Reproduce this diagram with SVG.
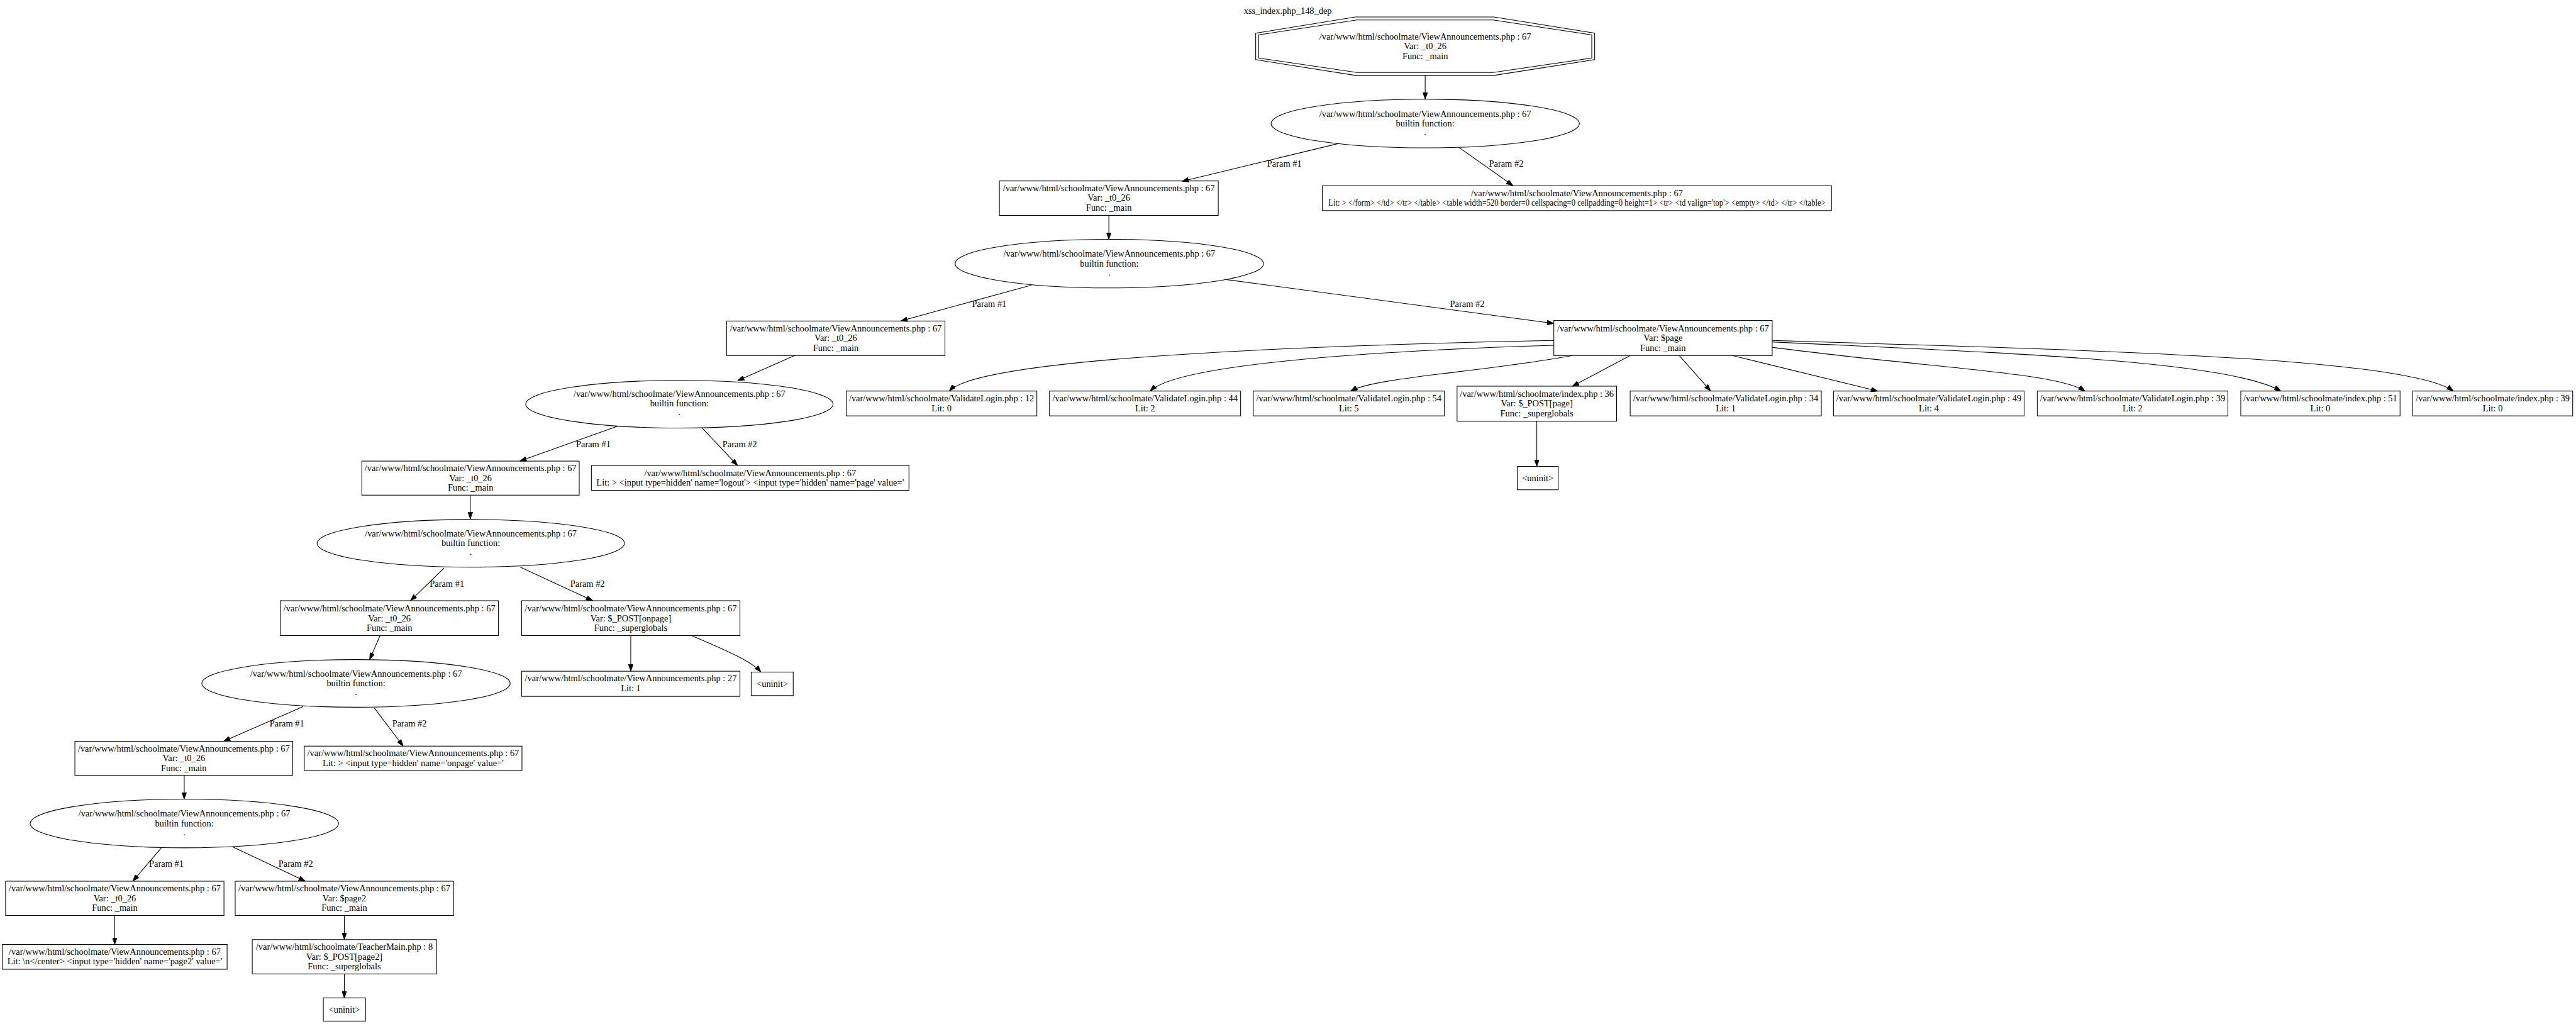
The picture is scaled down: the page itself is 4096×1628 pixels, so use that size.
<svg xmlns="http://www.w3.org/2000/svg" width="4096" height="1628" viewBox="0 0 4096 1628">
<style>
text{font-family:"Liberation Serif","Times New Roman",serif;font-size:18.67px;fill:#000;text-anchor:middle}
.n{fill:none;stroke:#000;stroke-width:1.4}
.e{fill:none;stroke:#000;stroke-width:1.4;marker-end:url(#a)}
</style>
<defs>
<marker id="a" viewBox="0 0 14 10" refX="14" refY="5" markerWidth="14" markerHeight="10" orient="auto" markerUnits="userSpaceOnUse">
<path d="M0,0 L14,5 L0,10 z" fill="#000" stroke="#000" stroke-width="1"/>
</marker>
</defs>
<rect width="4096" height="1628" fill="#fff"/>
<g transform="scale(0.7733)">
<text x="2648" y="28">xss_index.php_148_dep</text>
<g id="edges">
<path class="e" d="M2930.5,155 L2930.5,204"/>
<path class="e" d="M2752.6,295 L2430.5,372.7"/>
<path class="e" d="M2999.4,302.7 L3111,381.7"/>
<path class="e" d="M2280,443.3 L2280,492"/>
<path class="e" d="M2121,586 L1852,660"/>
<path class="e" d="M2523,575 L3195,665"/>
<path class="e" d="M3195,700 C2600,712 2010,740 1952,804"/>
<path class="e" d="M3195,710 C2800,722 2420,750 2365,804"/>
<path class="e" d="M3233,731 C3050,765 2830,775 2777,804"/>
<path class="e" d="M3352,731 L3233,794"/>
<path class="e" d="M3453,731 L3517.5,804"/>
<path class="e" d="M3562,731 L3861,804"/>
<path class="e" d="M3644,714 C3950,755 4230,765 4287,804"/>
<path class="e" d="M3644,703 C4100,725 4580,740 4690,804"/>
<path class="e" d="M3644,700 C4300,720 4950,735 5044.6,804"/>
<path class="e" d="M3160,866 L3160,959"/>
<path class="e" d="M1634.6,730.7 L1516.6,782.7"/>
<path class="e" d="M1270,876 L1069,948"/>
<path class="e" d="M1444,880 L1516.6,957"/>
<path class="e" d="M967,1018 L967,1067"/>
<path class="e" d="M913,1168 L844,1235"/>
<path class="e" d="M1070,1166 L1219,1235"/>
<path class="e" d="M781.6,1306.7 L760,1356"/>
<path class="e" d="M1297,1306.7 L1297,1380"/>
<path class="e" d="M1422,1306.7 C1500,1340 1545,1360 1564.7,1381.7"/>
<path class="e" d="M623,1453 L459.5,1524"/>
<path class="e" d="M770,1456 L829,1534"/>
<path class="e" d="M378.8,1594 L378.8,1643"/>
<path class="e" d="M331.6,1743.3 L273,1811.7"/>
<path class="e" d="M479.6,1741.7 L628,1811.7"/>
<path class="e" d="M236,1882.3 L236,1941.7"/>
<path class="e" d="M708,1882.3 L708,1931.7"/>
<path class="e" d="M708,2002.3 L708,2051.7"/>
<text x="2641" y="343">Param #1</text>
<text x="3097" y="343">Param #2</text>
<text x="2034" y="631">Param #1</text>
<text x="3017" y="631">Param #2</text>
<text x="1220" y="920">Param #1</text>
<text x="1521" y="920">Param #2</text>
<text x="919" y="1207">Param #1</text>
<text x="1208" y="1207">Param #2</text>
<text x="590" y="1494">Param #1</text>
<text x="842" y="1494">Param #2</text>
<text x="342" y="1782">Param #1</text>
<text x="608" y="1782">Param #2</text>
</g>
<g id="n1">
<polygon class="n" points="2787,35 3072,35 3279,68.3 3279,122.7 3072,155 2787,155 2582,122.7 2582,68.3"/>
<polygon class="n" points="2790,41 3070,41 3273,71.7 3273,119.3 3070,149 2790,149 2588,119.3 2588,71.7"/>
<text x="2930.5" y="81">/var/www/html/schoolmate/ViewAnnouncements.php : 67</text>
<text x="2930.5" y="101">Var: _t0_26</text>
<text x="2930.5" y="121">Func: _main</text>
</g>
<g id="n2">
<ellipse class="n" cx="2930.5" cy="254" rx="317" ry="50"/>
<text x="2930.5" y="240">/var/www/html/schoolmate/ViewAnnouncements.php : 67</text>
<text x="2930.5" y="260">builtin function:</text>
<text x="2930.5" y="278">.</text>
</g>
<g id="n3">
<rect class="n" x="2055" y="372" width="450" height="71"/>
<text x="2280" y="393">/var/www/html/schoolmate/ViewAnnouncements.php : 67</text>
<text x="2280" y="413">Var: _t0_26</text>
<text x="2280" y="433">Func: _main</text>
</g>
<g id="lit1">
<rect class="n" x="2719" y="382" width="1047" height="51"/>
<text x="3242.5" y="403">/var/www/html/schoolmate/ViewAnnouncements.php : 67</text>
<text x="3242.5" y="423" textLength="1022" lengthAdjust="spacingAndGlyphs">Lit: &gt; &lt;/form&gt; &lt;/td&gt; &lt;/tr&gt; &lt;/table&gt; &lt;table width=520 border=0 cellspacing=0 cellpadding=0 height=1&gt; &lt;tr&gt; &lt;td valign='top'&gt; &lt;empty&gt; &lt;/td&gt; &lt;/tr&gt; &lt;/table&gt;</text>
</g>
<g id="n4">
<ellipse class="n" cx="2281" cy="542" rx="317" ry="50"/>
<text x="2281" y="528">/var/www/html/schoolmate/ViewAnnouncements.php : 67</text>
<text x="2281" y="548">builtin function:</text>
<text x="2281" y="566">.</text>
</g>
<g id="n5">
<rect class="n" x="1494" y="660" width="449" height="71"/>
<text x="1718.5" y="681.5">/var/www/html/schoolmate/ViewAnnouncements.php : 67</text>
<text x="1718.5" y="701.5">Var: _t0_26</text>
<text x="1718.5" y="721.5">Func: _main</text>
</g>
<g id="page">
<rect class="n" x="3195" y="659" width="449" height="72"/>
<text x="3419.5" y="681">/var/www/html/schoolmate/ViewAnnouncements.php : 67</text>
<text x="3419.5" y="701">Var: $page</text>
<text x="3419.5" y="721">Func: _main</text>
</g>
<g id="vl12">
<rect class="n" x="1740" y="804" width="392" height="51"/>
<text x="1936" y="825.5">/var/www/html/schoolmate/ValidateLogin.php : 12</text>
<text x="1936" y="845.5">Lit: 0</text>
</g>
<g id="vl44">
<rect class="n" x="2158" y="804" width="393" height="51"/>
<text x="2354.5" y="825.5">/var/www/html/schoolmate/ValidateLogin.php : 44</text>
<text x="2354.5" y="845.5">Lit: 2</text>
</g>
<g id="vl54">
<rect class="n" x="2577" y="804" width="393" height="51"/>
<text x="2773.5" y="825.5">/var/www/html/schoolmate/ValidateLogin.php : 54</text>
<text x="2773.5" y="845.5">Lit: 5</text>
</g>
<g id="idx36">
<rect class="n" x="2996" y="794" width="328" height="72"/>
<text x="3160" y="816">/var/www/html/schoolmate/index.php : 36</text>
<text x="3160" y="836">Var: $_POST[page]</text>
<text x="3160" y="856">Func: _superglobals</text>
</g>
<g id="vl34">
<rect class="n" x="3352" y="804" width="393" height="51"/>
<text x="3548.5" y="825.5">/var/www/html/schoolmate/ValidateLogin.php : 34</text>
<text x="3548.5" y="845.5">Lit: 1</text>
</g>
<g id="vl49">
<rect class="n" x="3770" y="804" width="392" height="51"/>
<text x="3966" y="825.5">/var/www/html/schoolmate/ValidateLogin.php : 49</text>
<text x="3966" y="845.5">Lit: 4</text>
</g>
<g id="vl39">
<rect class="n" x="4189" y="804" width="392" height="51"/>
<text x="4385" y="825.5">/var/www/html/schoolmate/ValidateLogin.php : 39</text>
<text x="4385" y="845.5">Lit: 2</text>
</g>
<g id="idx51">
<rect class="n" x="4607.5" y="804" width="327.5" height="51"/>
<text x="4771" y="825.5">/var/www/html/schoolmate/index.php : 51</text>
<text x="4771" y="845.5">Lit: 0</text>
</g>
<g id="idx39">
<rect class="n" x="4961" y="804" width="329" height="51"/>
<text x="5125.5" y="825.5">/var/www/html/schoolmate/index.php : 39</text>
<text x="5125.5" y="845.5">Lit: 0</text>
</g>
<g id="uninit1">
<rect class="n" x="3120" y="959" width="84" height="48"/>
<text x="3162" y="989">&lt;uninit&gt;</text>
</g>
<g id="n6">
<ellipse class="n" cx="1397" cy="831" rx="316" ry="49"/>
<text x="1397" y="816">/var/www/html/schoolmate/ViewAnnouncements.php : 67</text>
<text x="1397" y="836">builtin function:</text>
<text x="1397" y="854">.</text>
</g>
<g id="n7">
<rect class="n" x="744" y="948" width="447" height="70"/>
<text x="967.5" y="969">/var/www/html/schoolmate/ViewAnnouncements.php : 67</text>
<text x="967.5" y="989">Var: _t0_26</text>
<text x="967.5" y="1009">Func: _main</text>
</g>
<g id="n8">
<rect class="n" x="1216" y="957" width="653" height="51"/>
<text x="1542.5" y="978.5">/var/www/html/schoolmate/ViewAnnouncements.php : 67</text>
<text x="1542.5" y="998.5">Lit: &gt; &lt;input type=hidden' name='logout'&gt; &lt;input type='hidden' name='page' value='</text>
</g>
<g id="n9">
<ellipse class="n" cx="968" cy="1117" rx="316" ry="49"/>
<text x="968" y="1103">/var/www/html/schoolmate/ViewAnnouncements.php : 67</text>
<text x="968" y="1123">builtin function:</text>
<text x="968" y="1141">.</text>
</g>
<g id="n10">
<rect class="n" x="576.5" y="1235" width="448.5" height="71.7"/>
<text x="800.75" y="1257">/var/www/html/schoolmate/ViewAnnouncements.php : 67</text>
<text x="800.75" y="1277">Var: _t0_26</text>
<text x="800.75" y="1297">Func: _main</text>
</g>
<g id="n11">
<rect class="n" x="1072.5" y="1235" width="449" height="71.7"/>
<text x="1297" y="1257">/var/www/html/schoolmate/ViewAnnouncements.php : 67</text>
<text x="1297" y="1277">Var: $_POST[onpage]</text>
<text x="1297" y="1297">Func: _superglobals</text>
</g>
<g id="n12">
<ellipse class="n" cx="732" cy="1405" rx="317" ry="49"/>
<text x="732" y="1391">/var/www/html/schoolmate/ViewAnnouncements.php : 67</text>
<text x="732" y="1411">builtin function:</text>
<text x="732" y="1429">.</text>
</g>
<g id="n13">
<rect class="n" x="1072.5" y="1380" width="449" height="51.7"/>
<text x="1297" y="1401">/var/www/html/schoolmate/ViewAnnouncements.php : 27</text>
<text x="1297" y="1421">Lit: 1</text>
</g>
<g id="uninit2">
<rect class="n" x="1544.6" y="1381.7" width="86.4" height="48.3"/>
<text x="1588" y="1412">&lt;uninit&gt;</text>
</g>
<g id="n14">
<rect class="n" x="154" y="1524" width="448" height="70"/>
<text x="378" y="1545">/var/www/html/schoolmate/ViewAnnouncements.php : 67</text>
<text x="378" y="1565">Var: _t0_26</text>
<text x="378" y="1585">Func: _main</text>
</g>
<g id="n15">
<rect class="n" x="625.7" y="1534" width="447.6" height="50"/>
<text x="849.5" y="1555">/var/www/html/schoolmate/ViewAnnouncements.php : 67</text>
<text x="849.5" y="1575">Lit: &gt; &lt;input type=hidden' name='onpage' value='</text>
</g>
<g id="n16">
<ellipse class="n" cx="379" cy="1693" rx="317" ry="50"/>
<text x="379" y="1679">/var/www/html/schoolmate/ViewAnnouncements.php : 67</text>
<text x="379" y="1699">builtin function:</text>
<text x="379" y="1717">.</text>
</g>
<g id="n17">
<rect class="n" x="11.5" y="1811.7" width="449" height="70.6"/>
<text x="236" y="1833">/var/www/html/schoolmate/ViewAnnouncements.php : 67</text>
<text x="236" y="1853">Var: _t0_26</text>
<text x="236" y="1873">Func: _main</text>
</g>
<g id="n18">
<rect class="n" x="483.6" y="1811.7" width="449" height="70.6"/>
<text x="708" y="1833">/var/www/html/schoolmate/ViewAnnouncements.php : 67</text>
<text x="708" y="1853">Var: $page2</text>
<text x="708" y="1873">Func: _main</text>
</g>
<g id="n19">
<rect class="n" x="5" y="1941.7" width="462" height="51"/>
<text x="236" y="1963">/var/www/html/schoolmate/ViewAnnouncements.php : 67</text>
<text x="236" y="1983">Lit: \n&lt;/center&gt; &lt;input type='hidden' name='page2' value='</text>
</g>
<g id="n20">
<rect class="n" x="518.7" y="1931.7" width="379" height="70.6"/>
<text x="708" y="1953">/var/www/html/schoolmate/TeacherMain.php : 8</text>
<text x="708" y="1973">Var: $_POST[page2]</text>
<text x="708" y="1993">Func: _superglobals</text>
</g>
<g id="n21">
<rect class="n" x="664.8" y="2051.7" width="86.8" height="47.6"/>
<text x="708" y="2081.5">&lt;uninit&gt;</text>
</g>
</g>
</svg>
